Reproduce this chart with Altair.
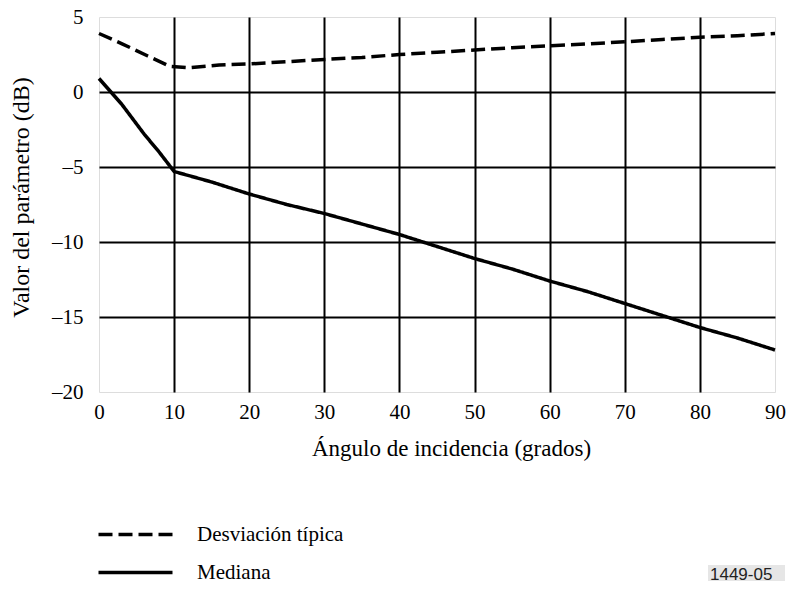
import altair as alt
import pandas as pd

# --- data ---
med_x = [0, 3, 6, 8, 10, 15, 20, 25, 30, 35, 40, 45, 50, 55, 60, 65, 70, 75, 80, 85, 90]
med_y = [0.9, -0.8, -2.8, -4.0, -5.3, -6.0, -6.8, -7.5, -8.1, -8.8, -9.5, -10.3,
         -11.1, -11.8, -12.6, -13.3, -14.1, -14.9, -15.7, -16.4, -17.2]

std_x = [0, 3, 6.5, 9.5, 12, 16, 20, 25, 30, 35, 40, 45, 50, 55, 60, 65, 70, 75, 80, 85, 90]
std_y = [3.9, 3.23, 2.4, 1.7, 1.62, 1.8, 1.87, 2.02, 2.17, 2.3, 2.5, 2.65, 2.8, 2.95,
         3.08, 3.2, 3.35, 3.5, 3.65, 3.75, 3.9]

series_names = ["Desviación típica", "Mediana"]
x_ticks = [0, 10, 20, 30, 40, 50, 60, 70, 80, 90]
y_ticks = [-20, -15, -10, -5, 0, 5]

df = pd.concat([
    pd.DataFrame({"ang": std_x, "val": std_y, "serie": series_names[0], "ord": range(len(std_x))}),
    pd.DataFrame({"ang": med_x, "val": med_y, "serie": series_names[1], "ord": range(len(med_x))}),
])

FONT = "Liberation Serif"

lines = alt.Chart(df).mark_line(color="black", strokeWidth=3.5, strokeJoin="round").encode(
    x=alt.X("ang:Q", scale=alt.Scale(domain=[0, 90], nice=False),
            axis=alt.Axis(values=x_ticks, title="Ángulo de incidencia (grados)",
                          grid=True, gridColor="black",
                          gridWidth={"condition": {"test": "datum.value == 0 || datum.value == 90", "value": 0}, "value": 2},
                          ticks=False, tickSize=0, domain=False, labelFlush=False,
                          labelFont=FONT, labelFontSize=21, labelColor="black",
                          labelBaseline="alphabetic", labelPadding=26,
                          titleFont=FONT, titleFontSize=23, titleFontWeight="normal", titleColor="black",
                          titleBaseline="alphabetic", titleY=63, titleX=352)),
    y=alt.Y("val:Q", scale=alt.Scale(domain=[-20, 5], nice=False),
            axis=alt.Axis(values=y_ticks, title="Valor del parámetro (dB)",
                          grid=True, gridColor="black",
                          gridWidth={"condition": {"test": "datum.value == -20 || datum.value == 5", "value": 0}, "value": 2},
                          ticks=False, tickSize=0, domain=False, labelFlush=False,
                          labelExpr="replace(datum.label, '−', '–')",
                          labelFont=FONT, labelFontSize=21, labelColor="black", labelPadding=16,
                          titleFont=FONT, titleFontSize=24, titleFontWeight="normal", titleColor="black",
                          titleX=-66, titleY=180)),
    strokeDash=alt.StrokeDash("serie:N",
                              scale=alt.Scale(domain=series_names, range=[[14, 6], [1, 0]]),
                              legend=alt.Legend(orient="none", legendX=26, legendY=507, title=None,
                                                padding=0, symbolType="M-37,0H37", symbolSize=4,
                                                symbolStrokeWidth=3.5, symbolStrokeColor="black",
                                                symbolFillColor="transparent",
                                                labelFont=FONT, labelFontSize=21, labelColor="black",
                                                labelLimit=400, labelOffset=51, rowPadding=16)),
    order="ord:Q",
)

tag_bg = alt.Chart(pd.DataFrame({"t": ["1449-05"]})).mark_rect(color="#e6e6e6").encode(
    x=alt.value(609), x2=alt.value(686), y=alt.value(548), y2=alt.value(564))
tag = alt.Chart(pd.DataFrame({"t": ["1449-05"]})).mark_text(
    font="Liberation Sans", fontSize=17, color="#222", align="left", baseline="alphabetic").encode(
    x=alt.value(611), y=alt.value(563), text="t:N")

chart = alt.layer(lines, tag_bg, tag).properties(
    width=676, height=375,
    autosize=alt.AutoSizeParams(type="none"),
    padding={"left": 91, "top": 9, "right": 12, "bottom": 192},
).configure_view(stroke="#444", strokeWidth=1.5).configure(background="white")

chart.save("out.html", embed_options={"renderer": "svg", "actions": False})
